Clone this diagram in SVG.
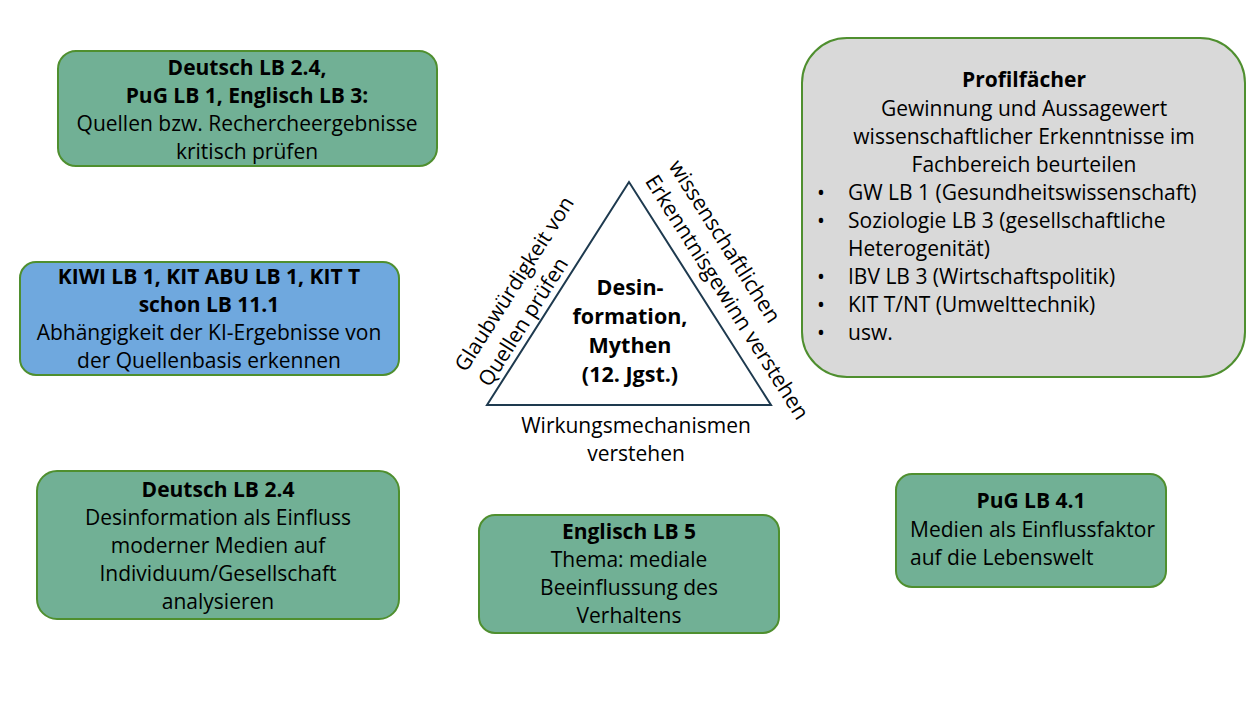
<svg xmlns="http://www.w3.org/2000/svg" width="1258" height="708" viewBox="0 0 1258 708">
<style>
.t{font-family:"Open Sans","Liberation Sans",Arial,sans-serif;font-size:21px;fill:#000}
.c{text-anchor:middle}
.b{font-weight:bold}
.m{font-size:21.5px}
.g{fill:#71b095;stroke:#4f8f2f;stroke-width:2}
.bl{fill:#6fa8de;stroke:#4f8f2f;stroke-width:2}
.gr{fill:#d9d9d9;stroke:#4f8f2f;stroke-width:2}
</style>
<rect width="1258" height="708" fill="#ffffff"/>
<g id="node-deutsch-quellen">
<rect class="g" x="58" y="51" width="379" height="115" rx="18"/>
<text class="t c b" x="247" y="75">Deutsch LB 2.4,</text>
<text class="t c b" x="247" y="103">PuG LB 1, Englisch LB 3:</text>
<text class="t c" x="247" y="131">Quellen bzw. Rechercheergebnisse</text>
<text class="t c" x="247" y="159">kritisch prüfen</text>
</g>
<g id="node-kiwi">
<rect class="bl" x="20" y="262" width="379" height="113" rx="16"/>
<text class="t c b" x="209" y="284">KIWI LB 1, KIT ABU LB 1, KIT T</text>
<text class="t c b" x="209" y="312">schon LB 11.1</text>
<text class="t c" x="209" y="340">Abhängigkeit der KI-Ergebnisse von</text>
<text class="t c" x="209" y="368">der Quellenbasis erkennen</text>
</g>
<g id="node-deutsch-desinformation">
<rect class="g" x="37" y="471" width="362" height="148" rx="20"/>
<text class="t c b" x="218" y="497">Deutsch LB 2.4</text>
<text class="t c" x="218" y="525">Desinformation als Einfluss</text>
<text class="t c" x="218" y="553">moderner Medien auf</text>
<text class="t c" x="218" y="581">Individuum/Gesellschaft</text>
<text class="t c" x="218" y="609">analysieren</text>
</g>
<g id="node-englisch">
<rect class="g" x="479" y="515" width="300" height="118" rx="16"/>
<text class="t c b" x="629" y="539">Englisch LB 5</text>
<text class="t c" x="629" y="567">Thema: mediale</text>
<text class="t c" x="629" y="595">Beeinflussung des</text>
<text class="t c" x="629" y="623">Verhaltens</text>
</g>
<g id="node-pug">
<rect class="g" x="896" y="474" width="270" height="113" rx="16"/>
<text class="t c b" x="1031" y="508">PuG LB 4.1</text>
<text class="t" x="910" y="537">Medien als Einflussfaktor</text>
<text class="t" x="910" y="565">auf die Lebenswelt</text>
</g>
<g id="node-profil">
<rect class="gr" x="802" y="38" width="443" height="339" rx="45"/>
<text class="t c b" x="1024" y="87">Profilfächer</text>
<text class="t c" x="1024" y="116">Gewinnung und Aussagewert</text>
<text class="t c" x="1024" y="144">wissenschaftlicher Erkenntnisse im</text>
<text class="t c" x="1024" y="172">Fachbereich beurteilen</text>
<text class="t" x="817" y="200">•</text><text class="t" x="848" y="200">GW LB 1 (Gesundheitswissenschaft)</text>
<text class="t" x="817" y="228">•</text><text class="t" x="848" y="228">Soziologie LB 3 (gesellschaftliche</text>
<text class="t" x="848" y="256">Heterogenität)</text>
<text class="t" x="817" y="284">•</text><text class="t" x="848" y="284">IBV LB 3 (Wirtschaftspolitik)</text>
<text class="t" x="817" y="312">•</text><text class="t" x="848" y="312">KIT T/NT (Umwelttechnik)</text>
<text class="t" x="817" y="340">•</text><text class="t" x="848" y="340">usw.</text>
</g>
<g id="node-triangle">
<polygon points="629,182 487,405 771,405" fill="#ffffff" stroke="#1e3a4f" stroke-width="2"/>
<text class="t c b m" x="630" y="295">Desin-</text>
<text class="t c b m" x="630" y="324">formation,</text>
<text class="t c b m" x="630" y="353">Mythen</text>
<text class="t c b m" x="630" y="382">(12. Jgst.)</text>
<text class="t c" x="636" y="433">Wirkungsmechanismen</text>
<text class="t c" x="636" y="461">verstehen</text>
<g transform="translate(466,373) rotate(-57.5)">
<text class="t" x="0" y="0">Glaubwürdigkeit von</text>
<text class="t" x="0" y="28">Quellen prüfen</text>
</g>
<g transform="translate(668,166) rotate(57.5)">
<text class="t" x="0" y="0" style="font-size:21.5px">wissenschaftlichen</text>
<text class="t" x="0" y="28" style="font-size:21.5px">Erkenntnisgewinn verstehen</text>
</g>
</g>
<g id="connectors"></g>
</svg>
